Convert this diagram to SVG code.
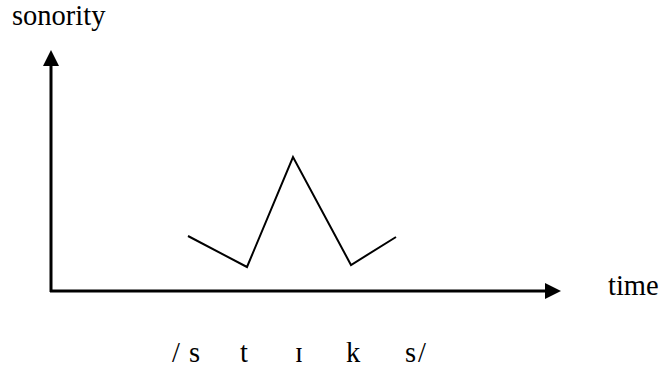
<svg xmlns="http://www.w3.org/2000/svg" width="664" height="371" viewBox="0 0 664 371">
<style>
text{font-family:"Liberation Serif","Times New Roman",serif;font-size:28.5px;fill:#000}
.ax{stroke:#000;stroke-width:3;fill:none}
.zz{stroke:#000;stroke-width:2;fill:none;stroke-linejoin:miter}
</style>
<rect width="664" height="371" fill="#fff"/>
<g id="y-axis">
<line class="ax" x1="51" y1="292" x2="51" y2="62"/>
<polygon points="51,50 43,66 59,66" fill="#000"/>
<text x="12" y="25">sonority</text>
</g>
<g id="x-axis">
<line class="ax" x1="50" y1="291" x2="548" y2="291"/>
<polygon points="561,291 545,283 545,299" fill="#000"/>
<text x="608" y="295">time</text>
</g>
<g id="connectors">
<polyline class="zz" points="188,236 247,267 293,157 351,265 396,237"/>
</g>
<g id="segments">
<text y="362"><tspan x="172">/</tspan><tspan x="189">s</tspan><tspan x="240">t</tspan><tspan x="295">ɪ</tspan><tspan x="346">k</tspan><tspan x="405">s</tspan><tspan x="418">/</tspan></text>
</g>
</svg>
